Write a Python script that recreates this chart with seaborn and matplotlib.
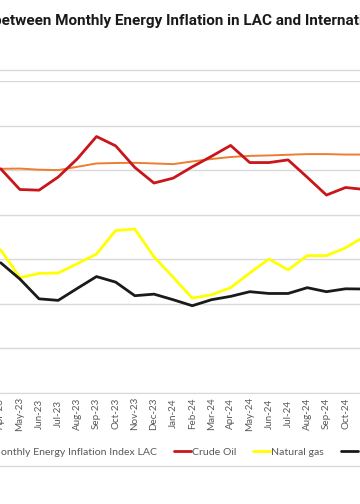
import numpy as np
import pandas as pd
import matplotlib.pyplot as plt
import seaborn as sns
from matplotlib.lines import Line2D

# monthly values (%), Apr-23 .. Nov-24
months = ['Apr-23', 'May-23', 'Jun-23', 'Jul-23', 'Aug-23', 'Sep-23', 'Oct-23',
          'Nov-23', 'Dec-23', 'Jan-24', 'Feb-24', 'Mar-24', 'Apr-24', 'May-24',
          'Jun-24', 'Jul-24', 'Aug-24', 'Sep-24', 'Oct-24', 'Nov-24']

lac_index = [20.7, 20.8, 20.3, 20.1, 21.6, 23.1, 23.3, 23.4, 23.1, 22.8,
             24.0, 25.1, 26.0, 26.5, 26.7, 27.0, 27.3, 27.3, 27.1, 27.1]
crude_oil = [20.7, 11.4, 11.1, 17.0, 25.2, 35.2, 31.0, 21.3, 14.3, 16.5,
             21.6, 26.3, 31.2, 23.5, 23.5, 24.7, 16.9, 8.9, 12.3, 11.4]
natural_gas = [-15.7, -28.2, -26.3, -26.1, -21.9, -17.6, -7.0, -6.4, -18.8, -28.0,
               -37.4, -35.9, -32.7, -26.1, -19.8, -24.7, -18.3, -18.3, -14.8, -9.6]
coal = [-21.5, -28.8, -37.7, -38.4, -33.0, -27.7, -30.2, -36.3, -35.6, -38.1,
        -40.8, -38.1, -36.6, -34.5, -35.3, -35.3, -32.7, -34.5, -33.2, -33.3]

series_names = ['Monthly Energy Inflation Index LAC', 'Crude Oil', 'Natural gas', 'Coal']
colors = ['#ED7D31', '#C8161B', '#FFFF00', '#1A1A1A']
widths = [1.4, 2.0, 2.0, 2.0]

df = pd.DataFrame({'month': months,
                   series_names[0]: lac_index,
                   series_names[1]: crude_oil,
                   series_names[2]: natural_gas,
                   series_names[3]: coal})
long = df.melt(id_vars='month', var_name='series', value_name='value')

sns.set_style('white')
plt.rcParams['font.family'] = ['Lato', 'DejaVu Sans']

fig = plt.figure(figsize=(3.6, 5.04), dpi=100)
ax = fig.add_axes([0, (504 - 393) / 504, 1, (393 - 81.3) / 504])

sns.lineplot(data=long, x='month', y='value', hue='series', hue_order=series_names,
             palette=colors, sort=False, legend=False, ax=ax)
for line, w in zip(ax.get_lines(), widths):
    line.set_linewidth(w)

ax.set_ylim(-80, 60)
ax.set_yticks(np.arange(-80, 61, 20))
ax.set_xlim(-0.7 / 19.16, 359.3 / 19.16)
ax.grid(axis='y', color='#D9D9D9', linewidth=1.0)
ax.set_axisbelow(True)
for s in ['top', 'left', 'right']:
    ax.spines[s].set_visible(False)
ax.spines['bottom'].set_color('#D9D9D9')
ax.tick_params(axis='y', left=False, labelleft=False)
ax.tick_params(axis='x', length=0, pad=14.8, labelsize=7.1, labelcolor='#595959')
for lab in ax.get_xticklabels():
    lab.set_rotation(90)
    lab.set_va('center')
ax.set_xlabel('')
ax.set_ylabel('')

fig.text(-0.02, 1 - 21 / 504, 'between Monthly Energy Inflation in LAC and International Energy Prices',
         ha='left', va='center', fontsize=11, fontweight='bold', color='#1A1A1A',
         family=['Roboto', 'DejaVu Sans'])

handles = [Line2D([], [], color=c, lw=w) for c, w in zip(colors, widths)]
fig.legend(handles, series_names, loc='center left', bbox_to_anchor=(-0.1, 1 - 452 / 504),
           ncol=4, frameon=False, fontsize=7.55, labelcolor='#595959',
           handlelength=1.6, handletextpad=0.12, columnspacing=1.6)

for yy in [70, 466]:
    fig.add_artist(Line2D([0, 1], [1 - yy / 504] * 2, color='#D9D9D9', lw=1.0,
                          transform=fig.transFigure))

fig.savefig('out.png', dpi=100)
